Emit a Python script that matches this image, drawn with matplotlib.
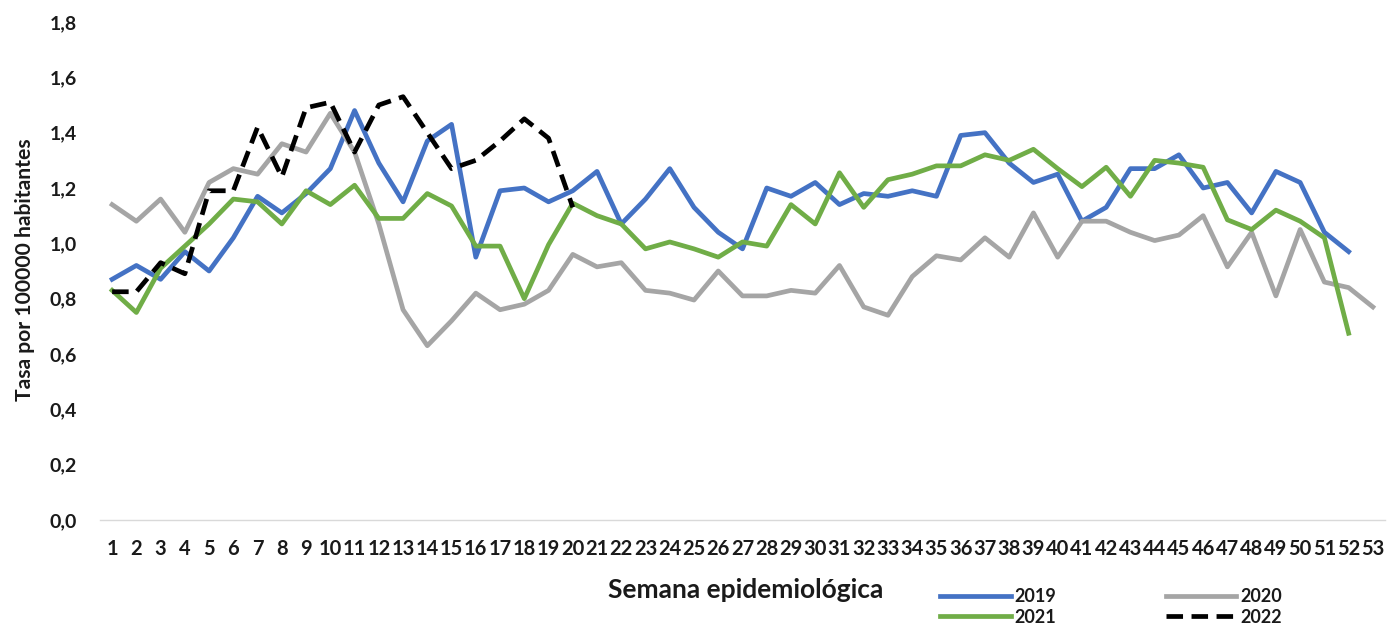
import matplotlib
matplotlib.use("Agg")
import matplotlib.pyplot as plt
from matplotlib.ticker import FuncFormatter

weeks = list(range(1, 54))

y2019 = [0.87, 0.92, 0.87, 0.97, 0.90, 1.02, 1.17, 1.11, 1.18, 1.27,
         1.48, 1.29, 1.15, 1.37, 1.43, 0.95, 1.19, 1.20, 1.15, 1.19,
         1.26, 1.07, 1.16, 1.27, 1.13, 1.04, 0.98, 1.20, 1.17, 1.22,
         1.14, 1.18, 1.17, 1.19, 1.17, 1.39, 1.40, 1.29, 1.22, 1.25,
         1.08, 1.13, 1.27, 1.27, 1.32, 1.20, 1.22, 1.11, 1.26, 1.22,
         1.04, 0.97]
y2020 = [1.14, 1.08, 1.16, 1.04, 1.22, 1.27, 1.25, 1.36, 1.33, 1.47,
         1.33, 1.07, 0.76, 0.63, 0.72, 0.82, 0.76, 0.78, 0.83, 0.96,
         0.915, 0.93, 0.83, 0.82, 0.795, 0.90, 0.81, 0.81, 0.83, 0.82,
         0.92, 0.77, 0.74, 0.88, 0.955, 0.94, 1.02, 0.95, 1.11, 0.95,
         1.08, 1.08, 1.04, 1.01, 1.03, 1.10, 0.915, 1.04, 0.81, 1.05,
         0.86, 0.84, 0.77]
y2021 = [0.83, 0.75, 0.91, 0.99, 1.07, 1.16, 1.15, 1.07, 1.19, 1.14,
         1.21, 1.09, 1.09, 1.18, 1.135, 0.99, 0.99, 0.80, 0.995, 1.145,
         1.10, 1.07, 0.98, 1.005, 0.98, 0.95, 1.005, 0.99, 1.14, 1.07,
         1.255, 1.13, 1.23, 1.25, 1.28, 1.28, 1.32, 1.30, 1.34, 1.27,
         1.205, 1.275, 1.17, 1.30, 1.29, 1.275, 1.085, 1.05, 1.12, 1.08,
         1.02, 0.675]
y2022 = [0.825, 0.825, 0.93, 0.89, 1.19, 1.19, 1.42, 1.24, 1.49, 1.51,
         1.33, 1.50, 1.53, 1.40, 1.27, 1.30, 1.37, 1.45, 1.38, 1.13]

yticks = [0.0, 0.2, 0.4, 0.6, 0.8, 1.0, 1.2, 1.4, 1.6, 1.8]

FONT = "Lato"
TXT = "#1a1a1a"

fig = plt.figure(figsize=(13.91, 6.32), dpi=100)
ax = fig.add_axes([100/1391, 1 - 520/632, 1285/1391, 498/632])

lw = 3.4
ax.plot(weeks[:len(y2019)], y2019, color="#4472C4", lw=lw, label="2019")
ax.plot(weeks[:len(y2020)], y2020, color="#A5A5A5", lw=lw, label="2020")
ax.plot(weeks[:len(y2021)], y2021, color="#70AD47", lw=lw, label="2021")
ax.plot(weeks[:len(y2022)], y2022, color="black", lw=lw, ls=(0, (3.5, 1.8)),
        dash_capstyle="butt", label="2022")

ax.set_xlim(0.5, 53.5)
ax.set_ylim(0, 1.8)
ax.set_yticks(yticks)
ax.yaxis.set_major_formatter(FuncFormatter(lambda v, p: f"{v:.1f}".replace(".", ",")))
ax.set_xticks(weeks)
ax.set_xticklabels([str(w) for w in weeks])

for s in ["top", "right", "left"]:
    ax.spines[s].set_visible(False)
ax.spines["bottom"].set_color("#D9D9D9")
ax.spines["bottom"].set_linewidth(1.0)
ax.tick_params(axis="both", length=0)
ax.tick_params(axis="x", pad=14)
ax.tick_params(axis="y", pad=16.5)

for lab in ax.get_xticklabels():
    lab.set_fontfamily(FONT)
    lab.set_fontweight("bold")
    lab.set_fontsize(14.5)
    lab.set_color(TXT)
for lab in ax.get_yticklabels():
    lab.set_fontfamily(FONT)
    lab.set_fontweight("bold")
    lab.set_fontsize(14)
    lab.set_color(TXT)

fig.text(25/1391, 1 - 270/632, "Tasa por 100000 habitantes", rotation=90,
         ha="center", va="center", fontfamily=FONT, fontweight="bold",
         fontsize=15.2, color=TXT)
fig.text(746/1391, 1 - 590/632, "Semana epidemiológica", ha="center", va="center",
         fontfamily=FONT, fontweight="bold", fontsize=19, color=TXT)

handles, labels = ax.get_legend_handles_labels()
order = [0, 2, 1, 3]
leg = fig.legend([handles[i] for i in order], [labels[i] for i in order],
                 ncol=2, loc="center", bbox_to_anchor=(1111/1391, 1 - 607/632),
                 frameon=False, handlelength=3.9, columnspacing=6.1,
                 handletextpad=0.2, labelspacing=0.2, borderpad=0,
                 prop={"family": FONT, "weight": "bold", "size": 13})
for t in leg.get_texts():
    t.set_color(TXT)

fig.savefig("out.png", dpi=100)
